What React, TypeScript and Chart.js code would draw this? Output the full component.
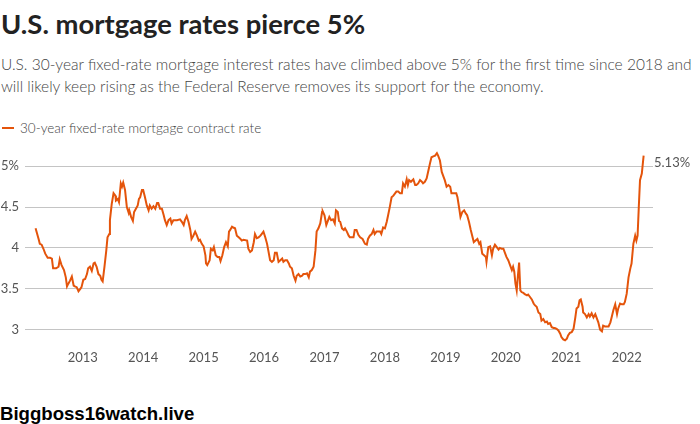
import React, { useEffect, useRef } from "react";
import { Chart, registerables } from "chart.js";
Chart.register(...registerables);

const TITLE = "U.S. mortgage rates pierce 5%";
const SUB1 = "U.S. 30-year fixed-rate mortgage interest rates have climbed above 5% for the first time since 2018 and";
const SUB2 = "will likely keep rising as the Federal Reserve removes its support for the economy.";
const LEGEND = "30-year fixed-rate mortgage contract rate";
const WATERMARK = "Biggboss16watch.live";
const END_LABEL = "5.13%";

const xTicks = [2013, 2014, 2015, 2016, 2017, 2018, 2019, 2020, 2021, 2022];
const yTicks = [3, 3.5, 4, 4.5, 5];

const years = [
  2012.22, 2012.27, 2012.29, 2012.32, 2012.35, 2012.38, 2012.42, 2012.46, 2012.49, 2012.51,
  2012.56, 2012.6, 2012.62, 2012.65, 2012.69, 2012.72, 2012.74, 2012.76, 2012.79, 2012.82,
  2012.85, 2012.87, 2012.9, 2012.93, 2012.96, 2012.98, 2013.01, 2013.04, 2013.07, 2013.09,
  2013.12, 2013.15, 2013.18, 2013.2, 2013.23, 2013.26, 2013.29, 2013.31, 2013.33, 2013.36,
  2013.39, 2013.41, 2013.44, 2013.45, 2013.48, 2013.51, 2013.54, 2013.55, 2013.58, 2013.6,
  2013.63, 2013.65, 2013.67, 2013.7, 2013.73, 2013.76, 2013.77, 2013.8, 2013.83, 2013.85,
  2013.88, 2013.91, 2013.93, 2013.95, 2013.98, 2014.0, 2014.03, 2014.06, 2014.09, 2014.11,
  2014.14, 2014.17, 2014.2, 2014.23, 2014.25, 2014.28, 2014.31, 2014.34, 2014.36, 2014.39,
  2014.42, 2014.45, 2014.47, 2014.5, 2014.56, 2014.61, 2014.64, 2014.67, 2014.69, 2014.72,
  2014.75, 2014.78, 2014.8, 2014.83, 2014.86, 2014.89, 2014.92, 2014.94, 2014.97, 2015.0,
  2015.03, 2015.04, 2015.06, 2015.1, 2015.12, 2015.15, 2015.17, 2015.2, 2015.23, 2015.26,
  2015.28, 2015.31, 2015.34, 2015.37, 2015.4, 2015.42, 2015.44, 2015.47, 2015.49, 2015.52,
  2015.55, 2015.58, 2015.61, 2015.63, 2015.66, 2015.72, 2015.74, 2015.77, 2015.8, 2015.83,
  2015.85, 2015.88, 2015.91, 2015.94, 2015.96, 2015.99, 2016.02, 2016.05, 2016.07, 2016.1,
  2016.13, 2016.16, 2016.18, 2016.21, 2016.24, 2016.27, 2016.3, 2016.32, 2016.35, 2016.38,
  2016.41, 2016.43, 2016.46, 2016.49, 2016.52, 2016.54, 2016.57, 2016.6, 2016.63, 2016.65,
  2016.68, 2016.71, 2016.74, 2016.76, 2016.79, 2016.82, 2016.85, 2016.87, 2016.9, 2016.93,
  2016.96, 2016.97, 2017.0, 2017.03, 2017.06, 2017.08, 2017.11, 2017.14, 2017.17, 2017.19,
  2017.22, 2017.24, 2017.26, 2017.29, 2017.32, 2017.34, 2017.37, 2017.4, 2017.42, 2017.48,
  2017.5, 2017.53, 2017.56, 2017.59, 2017.63, 2017.67, 2017.7, 2017.72, 2017.75, 2017.78,
  2017.81, 2017.83, 2017.86, 2017.92, 2017.94, 2017.97, 2018.0, 2018.03, 2018.05, 2018.08,
  2018.11, 2018.14, 2018.17, 2018.19, 2018.22, 2018.25, 2018.28, 2018.3, 2018.33, 2018.36,
  2018.38, 2018.4, 2018.43, 2018.47, 2018.5, 2018.52, 2018.55, 2018.58, 2018.61, 2018.63,
  2018.66, 2018.69, 2018.72, 2018.75, 2018.77, 2018.8, 2018.83, 2018.86, 2018.88, 2018.91,
  2018.94, 2018.97, 2018.99, 2019.02, 2019.05, 2019.08, 2019.1, 2019.13, 2019.18, 2019.2,
  2019.23, 2019.25, 2019.28, 2019.31, 2019.34, 2019.36, 2019.39, 2019.42, 2019.45, 2019.47,
  2019.5, 2019.53, 2019.56, 2019.58, 2019.61, 2019.64, 2019.67, 2019.68, 2019.71, 2019.74,
  2019.77, 2019.79, 2019.82, 2019.85, 2019.88, 2019.9, 2019.93, 2019.96, 2019.99, 2020.01,
  2020.04, 2020.07, 2020.1, 2020.12, 2020.14, 2020.16, 2020.18, 2020.2, 2020.22, 2020.24,
  2020.26, 2020.29, 2020.32, 2020.35, 2020.37, 2020.4, 2020.43, 2020.46, 2020.48, 2020.51,
  2020.54, 2020.57, 2020.59, 2020.62, 2020.65, 2020.68, 2020.7, 2020.73, 2020.76, 2020.79,
  2020.81, 2020.84, 2020.87, 2020.9, 2020.92, 2020.95, 2020.98, 2021.01, 2021.03, 2021.06,
  2021.09, 2021.12, 2021.15, 2021.17, 2021.2, 2021.22, 2021.24, 2021.27, 2021.28, 2021.31,
  2021.34, 2021.37, 2021.39, 2021.42, 2021.45, 2021.48, 2021.5, 2021.53, 2021.56, 2021.59,
  2021.61, 2021.64, 2021.67, 2021.7, 2021.73, 2021.75, 2021.78, 2021.81, 2021.84, 2021.86,
  2021.89, 2021.92, 2021.95, 2021.97, 2022.0, 2022.03, 2022.06, 2022.08, 2022.11, 2022.14,
  2022.16, 2022.18, 2022.2, 2022.22, 2022.25, 2022.28,
];

const rates = [
  4.24, 4.11, 4.05, 4.04, 3.99, 3.93, 3.88, 3.88, 3.87, 3.75,
  3.75, 3.77, 3.86, 3.79, 3.73, 3.64, 3.53, 3.56, 3.6, 3.65,
  3.54, 3.53, 3.52, 3.47, 3.5, 3.52, 3.61, 3.62, 3.68, 3.75,
  3.77, 3.72, 3.81, 3.82, 3.77, 3.68, 3.66, 3.61, 3.59, 3.77,
  3.97, 4.13, 4.17, 4.34, 4.54, 4.67, 4.64, 4.58, 4.6, 4.56,
  4.79, 4.75, 4.8, 4.71, 4.5, 4.43, 4.46, 4.38, 4.33, 4.44,
  4.48, 4.52, 4.6, 4.62, 4.71, 4.71, 4.62, 4.52, 4.46, 4.52,
  4.48, 4.51, 4.48, 4.55, 4.55, 4.48, 4.48, 4.4, 4.34, 4.28,
  4.34, 4.36, 4.3, 4.34, 4.34, 4.35, 4.32, 4.28, 4.34, 4.39,
  4.32, 4.22, 4.11, 4.15, 4.2, 4.15, 4.09, 4.1, 4.05, 4.02,
  3.91, 3.81, 3.79, 3.85, 3.99, 3.97, 4.01, 3.91, 3.89, 3.89,
  3.84, 3.91, 4.01, 4.07, 4.02, 4.2, 4.22, 4.26, 4.25, 4.24,
  4.15, 4.13, 4.11, 4.09, 4.1, 4.09, 3.99, 3.95, 3.97, 4.07,
  4.17, 4.12, 4.13, 4.15, 4.17, 4.2, 4.13, 4.05, 3.97, 3.85,
  3.83, 3.85, 3.94, 3.94, 3.83, 3.85, 3.87, 3.83, 3.85, 3.85,
  3.81, 3.77, 3.75, 3.66, 3.6, 3.66, 3.68, 3.65, 3.66, 3.68,
  3.68, 3.69, 3.64, 3.71, 3.73, 3.77, 3.97, 4.2, 4.24, 4.3,
  4.44, 4.45, 4.4, 4.28, 4.34, 4.38, 4.34, 4.35, 4.3, 4.46,
  4.44, 4.33, 4.32, 4.24, 4.22, 4.24, 4.2, 4.15, 4.13, 4.13,
  4.22, 4.22, 4.16, 4.13, 4.11, 4.05, 4.04, 4.11, 4.15, 4.17,
  4.22, 4.17, 4.2, 4.2, 4.17, 4.25, 4.24, 4.32, 4.39, 4.5,
  4.62, 4.64, 4.67, 4.69, 4.69, 4.67, 4.67, 4.79, 4.75, 4.84,
  4.77, 4.83, 4.81, 4.84, 4.77, 4.77, 4.79, 4.83, 4.81, 4.79,
  4.81, 4.85, 4.95, 5.05, 5.11, 5.12, 5.13, 5.16, 5.13, 5.07,
  4.93, 4.87, 4.83, 4.75, 4.77, 4.75, 4.67, 4.67, 4.67, 4.62,
  4.48, 4.38, 4.44, 4.46, 4.42, 4.4, 4.32, 4.22, 4.13, 4.07,
  4.09, 4.11, 4.05, 4.07, 3.93, 3.91, 3.89, 3.83, 4.01, 4.02,
  3.91, 3.99, 4.04, 4.01, 3.98, 4.0, 3.99, 3.99, 3.93, 3.89,
  3.85, 3.79, 3.73, 3.77, 3.71, 3.56, 3.48, 3.66, 3.82, 3.48,
  3.46, 3.45, 3.43, 3.42, 3.43, 3.4, 3.37, 3.32, 3.3, 3.28,
  3.21, 3.19, 3.11, 3.13, 3.09, 3.1, 3.07, 3.08, 3.03, 3.02,
  3.02, 3.01, 2.99, 2.95, 2.91, 2.88, 2.87, 2.89, 2.93, 2.96,
  2.97, 3.01, 3.15, 3.26, 3.28, 3.36, 3.37, 3.28, 3.21, 3.19,
  3.15, 3.19, 3.16, 3.2, 3.15, 3.19, 3.15, 3.09, 3.0, 2.98,
  3.05, 3.04, 3.04, 3.04, 3.09, 3.15, 3.24, 3.31, 3.19, 3.26,
  3.32, 3.31, 3.31, 3.34, 3.44, 3.64, 3.75, 3.81, 4.05, 4.15,
  4.09, 4.15, 4.5, 4.83, 4.91, 5.13,
];

const ORANGE = "#e4540b";
const FONT = "Lato, 'Open Sans', sans-serif";

export default function App() {
  const ref = useRef<HTMLCanvasElement>(null);

  useEffect(() => {
    document.body.style.margin = "0";
    const data = years.map((x, i) => ({ x, y: rates[i] }));
    const endLabel = {
      id: "endLabel",
      afterDatasetsDraw(chart: any) {
        const { ctx, scales } = chart;
        const py = scales.y.getPixelForValue(rates[rates.length - 1]);
        ctx.save();
        ctx.font = "13px Lato";
        ctx.fillStyle = "#555";
        ctx.textBaseline = "middle";
        ctx.textAlign = "left";
        ctx.fillText(END_LABEL, scales.x.right + 1, py + 7);
        ctx.restore();
      },
    };
    const chart = new Chart(ref.current as HTMLCanvasElement, {
      type: "line",
      data: {
        datasets: [
          {
            data,
            borderColor: ORANGE,
            borderWidth: 2,
            pointRadius: 0,
            tension: 0,
            fill: false,
          },
        ],
      },
      options: {
        animation: false,
        responsive: false,
        maintainAspectRatio: false,
        layout: { padding: { top: 0, right: 47, left: 0, bottom: 0 } },
        plugins: { legend: { display: false }, tooltip: { enabled: false } },
        scales: {
          x: {
            type: "linear",
            min: 2012.045,
            max: 2022.435,
            afterBuildTicks: (s: any) => {
              s.ticks = xTicks.map((v) => ({ value: v }));
            },
            afterFit: (s: any) => {
              s.height = 34;
            },
            grid: { display: false },
            border: { display: false },
            ticks: {
              color: "#555",
              font: { family: "Lato", size: 13 },
              padding: -4,
              maxRotation: 0,
              autoSkip: false,
              callback: (v: any) => String(v),
            },
          },
          y: {
            min: 2.8,
            max: 5.25,
            afterBuildTicks: (s: any) => {
              s.ticks = yTicks.map((v) => ({ value: v }));
            },
            afterFit: (s: any) => {
              s.width = 25;
            },
            grid: { color: "#c4c4c4", drawTicks: false, lineWidth: 1 },
            border: { display: false },
            ticks: {
              color: "#555",
              font: { family: "Lato", size: 13 },
              padding: 6,
              callback: (v: any) => (v === 5 ? "5%" : String(v)),
            },
          },
        },
      },
      plugins: [endLabel],
    });
    return () => chart.destroy();
  }, []);

  return (
    <div style={{ position: "relative", width: 700, height: 424, background: "#fff", overflow: "hidden", fontFamily: FONT }}>
      <div style={{ position: "absolute", left: 1, top: 8, fontSize: 27.4, lineHeight: "32px", fontWeight: 700, color: "#222", whiteSpace: "nowrap" }}>{TITLE}</div>
      <div style={{ position: "absolute", left: 1, top: 53, fontSize: 15.5, lineHeight: "22px", fontWeight: 300, color: "#444", whiteSpace: "nowrap" }}>{SUB1}</div>
      <div style={{ position: "absolute", left: 1, top: 75, fontSize: 15.5, lineHeight: "22px", fontWeight: 300, color: "#444", whiteSpace: "nowrap" }}>{SUB2}</div>
      <div style={{ position: "absolute", left: 2, top: 127, width: 12, height: 2, background: ORANGE }} />
      <div style={{ position: "absolute", left: 20, top: 120, fontSize: 13.5, lineHeight: "16px", fontWeight: 300, color: "#444", whiteSpace: "nowrap" }}>{LEGEND}</div>
      <canvas ref={ref} width={700} height={248} style={{ position: "absolute", left: 0, top: 132, width: 700, height: 248 }} />
      <div style={{ position: "absolute", left: 0, top: 404, fontFamily: "'Liberation Sans', Arial, sans-serif", fontSize: 18.6, lineHeight: "20px", fontWeight: 700, color: "#000", whiteSpace: "nowrap" }}>{WATERMARK}</div>
    </div>
  );
}
